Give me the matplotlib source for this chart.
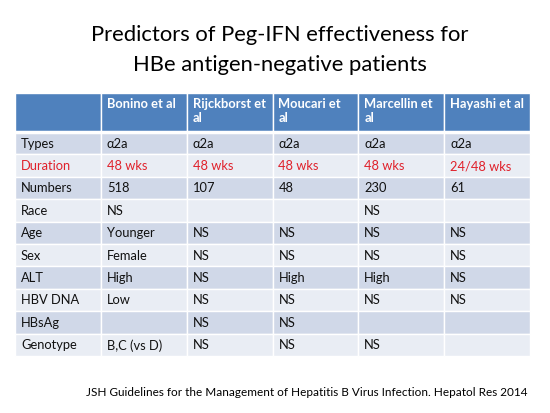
import matplotlib.pyplot as plt
from matplotlib.patches import Rectangle

plt.rcParams['font.family'] = ['Lato', 'DejaVu Sans']

# table content
studies = ['Bonino et al', 'Rijckborst et\nal', 'Moucari et\nal',
           'Marcellin et\nal', 'Hayashi et al']
row_labels = ['Types', 'Duration', 'Numbers', 'Race', 'Age', 'Sex', 'ALT',
              'HBV DNA', 'HBsAg', 'Genotype']
types = ['α2a', 'α2a', 'α2a', 'α2a', 'α2a']
duration = ['48 wks', '48 wks', '48 wks', '48 wks', '24/48 wks']
numbers = ['518', '107', '48', '230', '61']
race = ['NS', '', '', 'NS', '']
age = ['Younger', 'NS', 'NS', 'NS', 'NS']
sex = ['Female', 'NS', 'NS', 'NS', 'NS']
alt = ['High', 'NS', 'High', 'High', 'NS']
hbv_dna = ['Low', 'NS', 'NS', 'NS', 'NS']
hbsag = ['', 'NS', 'NS', '', '']
genotype = ['B,C (vs D)', 'NS', 'NS', 'NS', '']
rows = [types, duration, numbers, race, age, sex, alt, hbv_dna, hbsag,
        genotype]

title_lines = ['Predictors of Peg-IFN effectiveness for',
               'HBe antigen-negative patients']
source = ('JSH Guidelines for the Management of Hepatitis B Virus '
          'Infection. Hepatol Res 2014')

# layout (pixels)
left, right = 15, 530
head_top, head_bot = 93, 132
row_h = 22.4
n_cols = len(studies) + 1
col_w = (right - left) / n_cols

header_col = '#4F81BD'
dark_col = '#D0D8E8'
light_col = '#E9EDF4'
red = '#E0202A'

fig = plt.figure(figsize=(5.5, 4.13), dpi=100)
ax = fig.add_axes([0, 0, 1, 1])
ax.set_xlim(0, 550)
ax.set_ylim(413, 0)
ax.axis('off')

ax.text(280, 35, title_lines[0], ha='center', va='center', fontsize=15.8)
ax.text(280, 65, title_lines[1], ha='center', va='center', fontsize=15.8)

# header row
for j in range(n_cols):
    x0 = left + j * col_w
    ax.add_patch(Rectangle((x0, head_top), col_w, head_bot - head_top,
                           facecolor=header_col, edgecolor='white', lw=1))
    if j > 0:
        ax.text(x0 + 6, head_top + 5.5, studies[j - 1], ha='left', va='top',
                color='white', fontsize=9.3, fontweight='bold',
                linespacing=1.2)
ax.plot([left, right], [head_bot, head_bot], color='white', lw=2.5)

# body rows
for i, (label, vals) in enumerate(zip(row_labels, rows)):
    y0 = head_bot + i * row_h
    fc = dark_col if i % 2 == 0 else light_col
    tc = red if label == 'Duration' else '#111111'
    cells = [label] + vals
    for j, val in enumerate(cells):
        x0 = left + j * col_w
        ax.add_patch(Rectangle((x0, y0), col_w, row_h, facecolor=fc,
                               edgecolor='white', lw=1))
        if val:
            ax.text(x0 + 6, y0 + row_h / 2 + 0.5, val, ha='left',
                    va='center', color=tc, fontsize=9.3)

ax.text(527, 392, source, ha='right', va='center', fontsize=8.5)

fig.savefig('out.png', dpi=100)
